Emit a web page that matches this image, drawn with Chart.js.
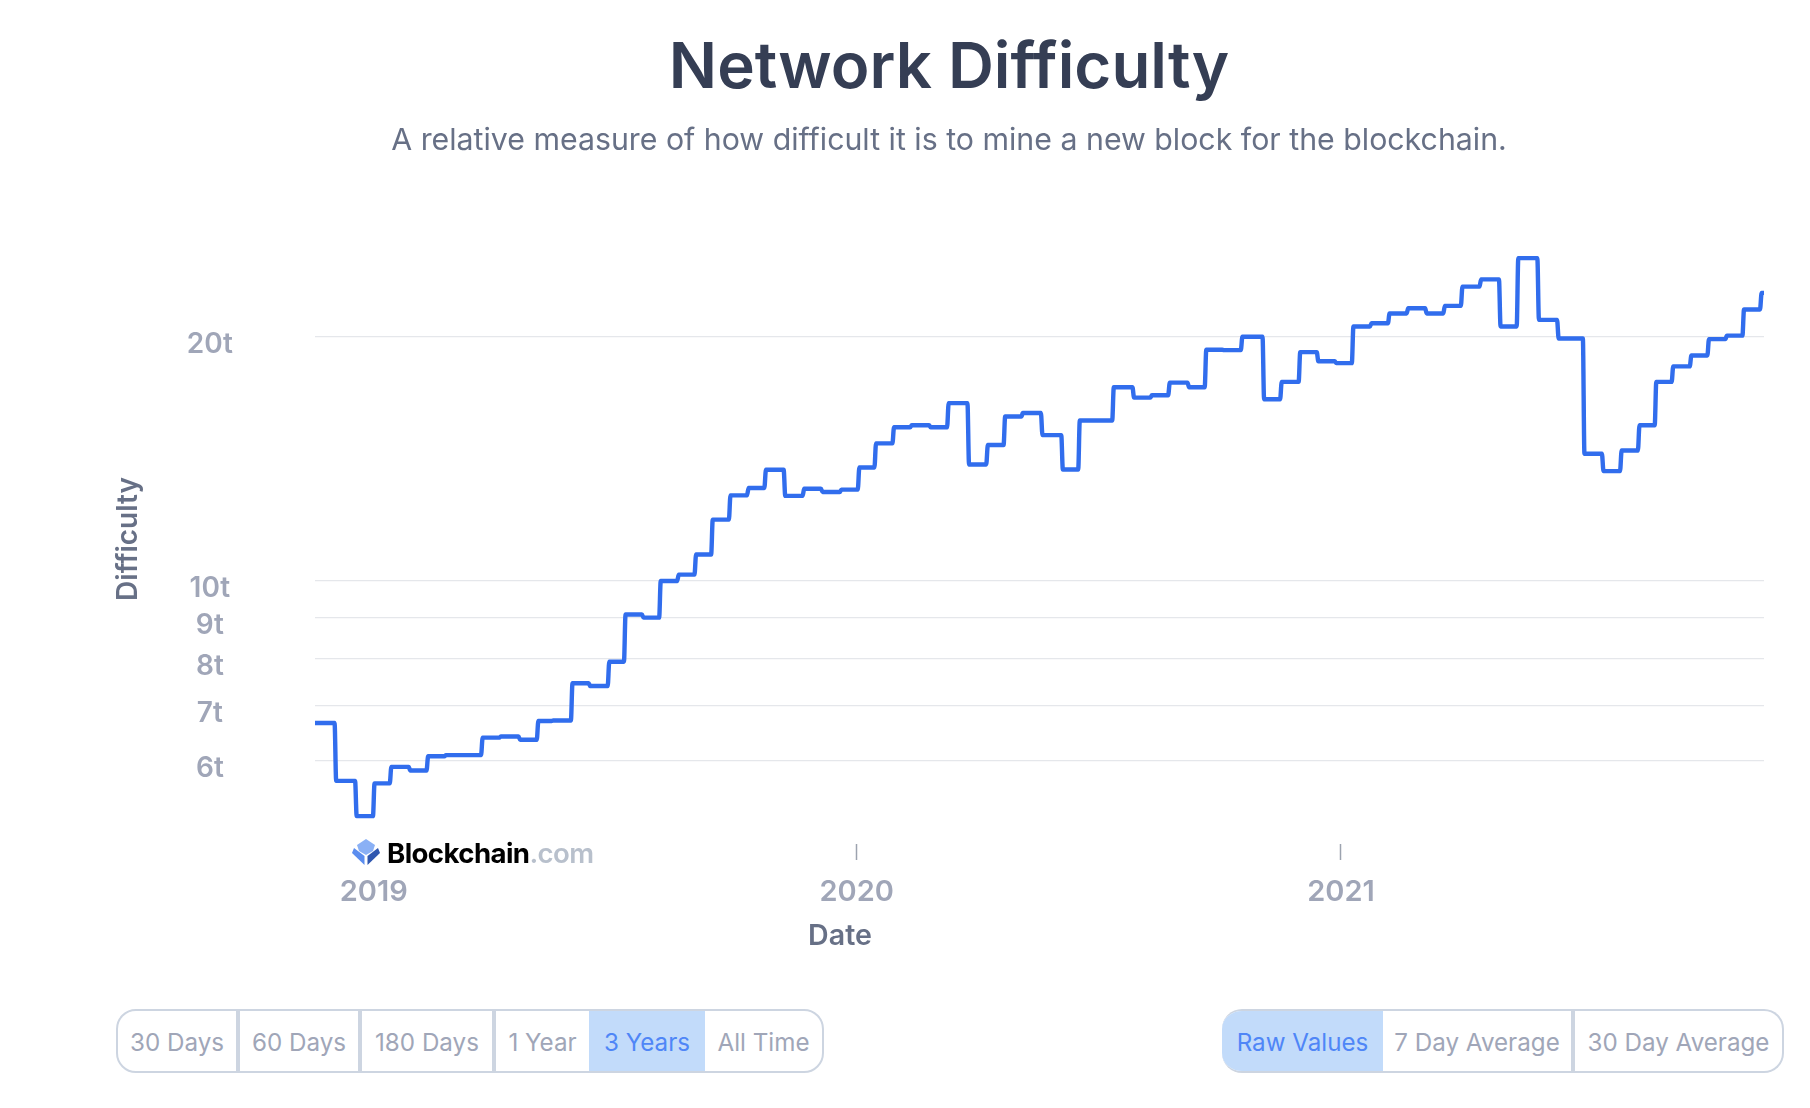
<!DOCTYPE html>
<html>
<head>
<meta charset="utf-8">
<title>Network Difficulty</title>
<script src="https://cdn.jsdelivr.net/npm/chart.js@4/dist/chart.umd.min.js"></script>
<style>
    html, body { margin: 0; padding: 0; background: #fff; }
    body { width: 1810px; height: 1108px; position: relative; overflow: hidden; font-family: Inter, sans-serif; }
    #chart { position: absolute; left: 0; top: 0; }
    .title { position: absolute; left: 0; width: 1898px; top: 24px; text-align: center; font-size: 63.6px; line-height: 82px; font-weight: 600; color: #353e54; }
    .subtitle { position: absolute; left: 0; width: 1898px; top: 119px; text-align: center; font-size: 30.3px; line-height: 40px; color: #677086; }
    .date-title { position: absolute; left: 740px; width: 200px; top: 916px; text-align: center; font-size: 28.6px; line-height: 38px; font-weight: 600; color: #677086; }
    .y-title { position: absolute; left: 27px; width: 200px; top: 520px; text-align: center; font-size: 28px; line-height: 38px; font-weight: 600; color: #677086; transform: rotate(-90deg); }
    .logo { position: absolute; left: 350px; top: 837px; height: 32px; width: 246px; background: #fff; }
    .logo svg { position: absolute; left: 2px; top: 1px; }
    .logo span { position: absolute; left: 37px; top: 0; font-size: 27.6px; line-height: 32px; font-weight: 700; color: #000; letter-spacing: -0.6px; white-space: nowrap; }
    .logo span i { font-style: normal; font-weight: 600; color: #b8c0cc; }
    .group { position: absolute; top: 1009px; height: 64px; box-sizing: border-box; display: flex; border: 2px solid #cdd5e1; border-radius: 20px; overflow: hidden; }
    .group div { box-sizing: border-box; height: 100%; text-align: center; font-size: 24.2px; line-height: 64px; color: #a0a6b8; border-right: 4px solid #cdd5e1; }
    .group div.plain { border-right: 0; }
    .group div.on { background: #c2dbfa; color: #4f86f7; border-right: 0; }
</style>
</head>
<body>
<canvas id="chart" width="1810" height="960"></canvas>
<div class="title">Network Difficulty</div>
<div class="subtitle">A relative measure of how difficult it is to mine a new block for the blockchain.</div>
<div class="date-title">Date</div>
<div class="y-title">Difficulty</div>
<div class="logo">
    <svg width="28" height="28" viewBox="0 0 28 28">
        <path d="M14 1 L23 7 L21 13 L14 17 L7 13 L5 7 Z" fill="#8ab0f5"/>
        <path d="M2 10 L12.5 18 L12.5 27 L0 15 Z" fill="#5b8def"/>
        <path d="M26 10 L15.5 18 L15.5 27 L28 15 Z" fill="#2f57b0"/>
    </svg>
    <span>Blockchain<i>.com</i></span>
</div>
<div class="group" style="left:116px;width:708px">
    <div style="width:122px">30 Days</div>
    <div style="width:122px">60 Days</div>
    <div style="width:134px">180 Days</div>
    <div class="plain" style="width:93px">1 Year</div>
    <div class="on" style="width:116px">3 Years</div>
    <div class="plain" style="width:117px">All Time</div>
</div>
<div class="group" style="left:1222px;width:562px;border-left:0">
    <div class="on" style="width:161px">Raw Values</div>
    <div style="width:192px">7 Day Average</div>
    <div class="plain" style="width:207px">30 Day Average</div>
</div>

<script>
// Days since 1 Jan 2019 at which each difficulty level starts
const stepDays = [
    -44.4, -29, -13.5, 0, 12.7, 27, 40.5, 54, 81.7, 95.6, 110, 123.8, 135, 149.6, 163, 177.4,
    189.7, 203.3, 216.3, 229.9, 243, 255.6, 269, 282.7, 295.8, 310.4, 324.7, 338.6, 352.8, 366.4,
    379, 392.6, 406, 420.3, 433.9, 449.3, 463.5, 476.6, 490, 504.8, 520.2, 533, 558.7, 574, 587.5,
    601, 615.6, 628.6, 641.8, 655.9, 672.3, 685.6, 699.6, 713.3, 726.9, 739.8, 753.5, 767.1, 781.2,
    795.2, 808.9, 822.2, 836.3, 851, 864.4, 880, 894.9, 914.4, 928.8, 942.5, 956, 968.7, 981.5,
    995.2, 1008.5, 1022.1, 1035, 1048.3
];
// Difficulty in trillions for each step
const difficulty = [
    6.67, 5.66, 5.12, 5.62, 5.89, 5.83, 6.07, 6.09, 6.40, 6.42, 6.36, 6.71, 6.72, 7.47, 7.41, 7.94,
    9.08, 9.00, 9.99, 10.17, 10.77, 11.89, 12.74, 13.01, 13.70, 12.72, 12.98, 12.86, 12.95, 13.79,
    14.77, 15.46, 15.55, 15.46, 16.56, 13.91, 14.70, 15.94, 16.10, 15.12, 13.71, 15.76, 17.32, 16.82, 16.93,
    17.55, 17.32, 19.27, 19.25, 20.00, 16.74, 17.59, 19.14, 18.65, 18.55, 20.59, 20.78, 21.36, 21.68,
    21.36, 21.83, 23.06, 23.54, 20.59, 25.00, 20.98, 19.90, 14.34, 13.65, 14.47, 15.55, 17.59, 18.38,
    18.96, 19.86, 20.06, 21.61, 22.65
];
const lastDay = 1050.7;
const firstDay = -44.4;

const yearTicks = [0, 365, 731];
const yearLabels = ['2019', '2020', '2021'];
const difficultyTicks = [6, 7, 8, 9, 10, 20];

// every level is a flat run, the rise to the next level takes about one day
const linePoints = [];
stepDays.forEach((day, i) => {
    const nextDay = i + 1 < stepDays.length ? stepDays[i + 1] : lastDay + 0.6;
    linePoints.push({ x: day + 0.6, y: difficulty[i] });
    linePoints.push({ x: nextDay - 0.6, y: difficulty[i] });
});
linePoints[0].x = firstDay;

const tickColor = '#a0a6b8';

new Chart(document.getElementById('chart').getContext('2d'), {
    type: 'line',
    data: {
        datasets: [{
            label: 'Difficulty',
            data: linePoints,
            borderColor: '#316ded',
            borderWidth: 4.4,
            borderCapStyle: 'round',
            borderJoinStyle: 'round',
            cubicInterpolationMode: 'monotone',
            pointRadius: 0
        }]
    },
    options: {
        responsive: false,
        animation: false,
        layout: { padding: { left: 100, top: 241, right: 46, bottom: 0 } },
        plugins: { legend: { display: false }, tooltip: { enabled: false } },
        scales: {
            x: {
                type: 'linear',
                min: firstDay,
                max: lastDay,
                afterFit: scale => { scale.height = 116; },
                afterBuildTicks: scale => { scale.ticks = yearTicks.map(value => ({ value })); },
                grid: { drawOnChartArea: false, tickLength: 16, tickColor: '#9ca3af', tickWidth: 1.5 },
                border: { display: false },
                ticks: {
                    autoSkip: false,
                    maxRotation: 0,
                    padding: 15,
                    font: { family: 'Inter', size: 29, weight: '600' },
                    color: tickColor,
                    callback: value => yearLabels[yearTicks.indexOf(value)]
                }
            },
            y: {
                type: 'logarithmic',
                min: 4.73,
                max: 26.25,
                afterFit: scale => { scale.width = 215; },
                afterBuildTicks: scale => { scale.ticks = difficultyTicks.map(value => ({ value })); },
                grid: { color: '#e5e7eb', lineWidth: 1.2, drawTicks: false },
                border: { display: false },
                ticks: {
                    autoSkip: false,
                    crossAlign: 'center',
                    padding: 82,
                    // half line height plus a blank first line drops the label below its gridline
                    font: { family: 'Inter', size: 28, weight: '600', lineHeight: 0.56 },
                    color: tickColor,
                    callback: value => ['', value + 't']
                }
            }
        }
    }
});
</script>
</body>
</html>
